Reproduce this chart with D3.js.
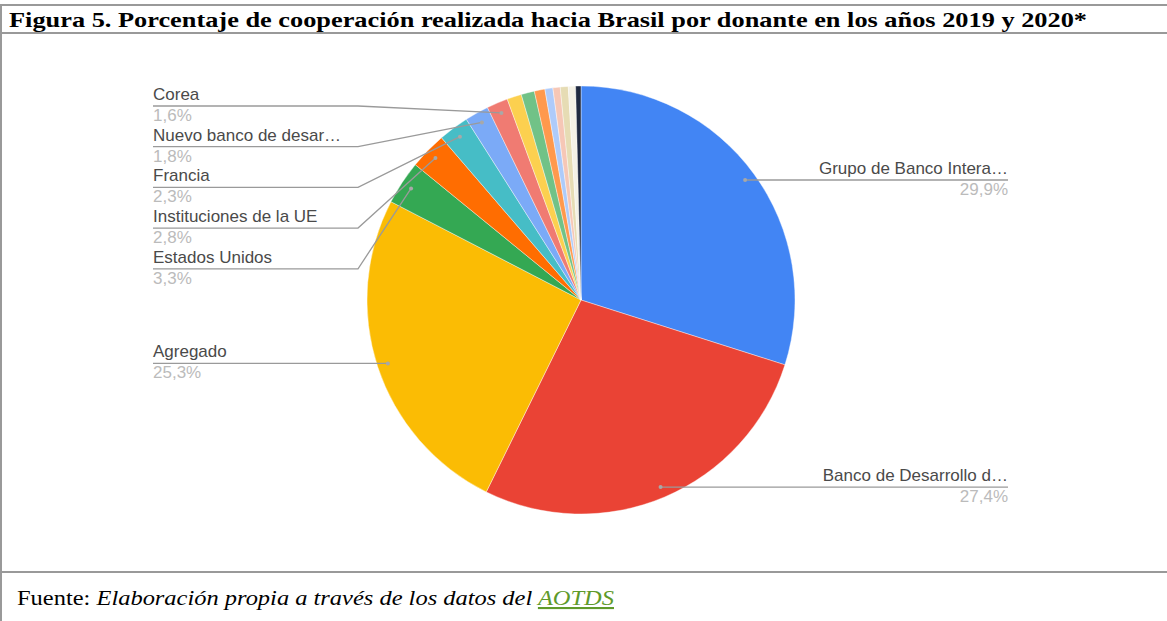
<!DOCTYPE html>
<html>
<head>
<meta charset="utf-8">
<script src="https://cdn.jsdelivr.net/npm/d3@7"></script>
<style>
  html, body { margin: 0; padding: 0; background: #fff; }
  svg { display: block; }
</style>
</head>
<body>
<div id="chart"></div>
<script>
// slice data, clockwise from 12 o'clock (values in %)
const donors = [
  'Grupo de Banco Interamericano', 'Banco de Desarrollo de America Latina', 'Agregado',
  'Estados Unidos', 'Instituciones de la UE', 'Francia', 'Nuevo banco de desarrollo', 'Corea',
  'Otro 1', 'Otro 2', 'Otro 3', 'Otro 4', 'Otro 5', 'Otro 6', 'Otro 7', 'Otro 8'
];
const shortLabels = [
  'Grupo de Banco Intera…', 'Banco de Desarrollo d…', 'Agregado',
  'Estados Unidos', 'Instituciones de la UE', 'Francia', 'Nuevo banco de desar…', 'Corea',
  '', '', '', '', '', '', '', ''
];
const shares = [29.9, 27.4, 25.3, 3.3, 2.8, 2.3, 1.8, 1.6, 1.1, 1.0, 0.8, 0.6, 0.55, 0.6, 0.55, 0.4];
const colors = [
  '#4285f4', '#ea4335', '#fbbc04', '#34a853', '#ff6d01', '#46bdc6', '#7baaf7', '#f07b72',
  '#fcd04f', '#71c287', '#ff994d', '#aecbfa', '#f6c7b6', '#e6dcb4', '#f4f1e6', '#1f2940'
];

const titleText = 'Figura 5. Porcentaje de cooperación realizada hacia Brasil por donante en los años 2019 y 2020*';

const width = 1167, height = 621;
const cx = 581, cy = 300, radius = 214;

const svg = d3.select('#chart').append('svg')
  .attr('width', width)
  .attr('height', height);

// frame lines
const frame = svg.append('g').attr('stroke', '#999').attr('stroke-width', 2);
frame.append('line').attr('x1', 0).attr('x2', width).attr('y1', 5).attr('y2', 5);
frame.append('line').attr('x1', 0).attr('x2', width).attr('y1', 33).attr('y2', 33);
frame.append('line').attr('x1', 0).attr('x2', width).attr('y1', 572).attr('y2', 572);
frame.append('line').attr('x1', 1).attr('x2', 1).attr('y1', 4).attr('y2', height);

// title
svg.append('text')
  .attr('x', 9)
  .attr('y', 27)
  .attr('font-family', 'Liberation Serif, serif')
  .attr('font-weight', 'bold')
  .attr('font-size', 21)
  .attr('fill', '#000')
  .attr('textLength', 1078)
  .attr('lengthAdjust', 'spacingAndGlyphs')
  .text(titleText);

// pie
const data = donors.map((d, i) => ({ name: d, label: shortLabels[i], value: shares[i], color: colors[i] }));
const pie = d3.pie().value(d => d.value).sort(null);
const arcs = pie(data);
const arc = d3.arc().innerRadius(0).outerRadius(radius);

const g = svg.append('g').attr('transform', `translate(${cx},${cy})`);
g.selectAll('path')
  .data(arcs)
  .enter()
  .append('path')
  .attr('d', arc)
  .attr('fill', d => d.data.color)
  .attr('stroke', '#fff')
  .attr('stroke-width', 0.4);

// labels
const fmt = v => d3.format('.1f')(v).replace('.', ',') + '%';
const anchorR = radius * 0.95;
const labelled = arcs.filter(d => d.data.label).map(d => {
  const mid = (d.startAngle + d.endAngle) / 2;
  return {
    d: d,
    side: mid < Math.PI ? 'right' : 'left',
    px: cx + anchorR * Math.sin(mid),
    py: cy - anchorR * Math.cos(mid)
  };
});

// left side: stack labels top-down with a minimum gap
const left = labelled.filter(l => l.side === 'left').sort((a, b) => a.py - b.py);
const gap = 40.7, labelTop = 106;
left.forEach((l, i) => {
  l.ly = i === 0 ? labelTop : Math.max(l.py, left[i - 1].ly + gap);
});
const right = labelled.filter(l => l.side === 'right');
right.forEach(l => { l.ly = l.py; });

const leftX = 153, elbowX = 358, rightX = 1008;
const lab = svg.append('g').attr('font-family', 'Liberation Sans, Arial, sans-serif').attr('font-size', 17);

left.forEach(l => {
  const pts = l.ly === l.py
    ? [[leftX, l.ly], [l.px, l.py]]
    : [[leftX, l.ly], [elbowX, l.ly], [l.px, l.py]];
  lab.append('path')
    .attr('d', d3.line()(pts))
    .attr('fill', 'none')
    .attr('stroke', '#9a9a9a')
    .attr('stroke-width', 1.3);
  lab.append('text').attr('x', leftX).attr('y', l.ly - 6).attr('fill', '#4a4a4a').text(l.d.data.label);
  lab.append('text').attr('x', leftX).attr('y', l.ly + 15).attr('fill', '#bbb').text(fmt(l.d.data.value));
});

right.forEach(l => {
  lab.append('path')
    .attr('d', d3.line()([[l.px, l.ly], [rightX, l.ly]]))
    .attr('fill', 'none')
    .attr('stroke', '#9a9a9a')
    .attr('stroke-width', 1.3);
  lab.append('text').attr('x', rightX).attr('y', l.ly - 6).attr('text-anchor', 'end').attr('fill', '#4a4a4a').text(l.d.data.label);
  lab.append('text').attr('x', rightX).attr('y', l.ly + 15).attr('text-anchor', 'end').attr('fill', '#bbb').text(fmt(l.d.data.value));
});

// anchor dots
lab.selectAll('circle')
  .data(labelled)
  .enter()
  .append('circle')
  .attr('cx', d => d.px)
  .attr('cy', d => d.py)
  .attr('r', 2)
  .attr('fill', '#a8a8a8');

// source note
const foot = svg.append('text')
  .attr('x', 17)
  .attr('y', 605)
  .attr('font-family', 'Liberation Serif, serif')
  .attr('font-size', 21)
  .attr('fill', '#000')
  .attr('textLength', 597)
  .attr('lengthAdjust', 'spacingAndGlyphs');
foot.append('tspan').text('Fuente: ');
foot.append('tspan').attr('font-style', 'italic').text('Elaboración propia a través de los datos del ');
foot.append('tspan').attr('font-style', 'italic').attr('fill', '#5f9a2a').attr('text-decoration', 'underline').text('AOTDS');
</script>
</body>
</html>
